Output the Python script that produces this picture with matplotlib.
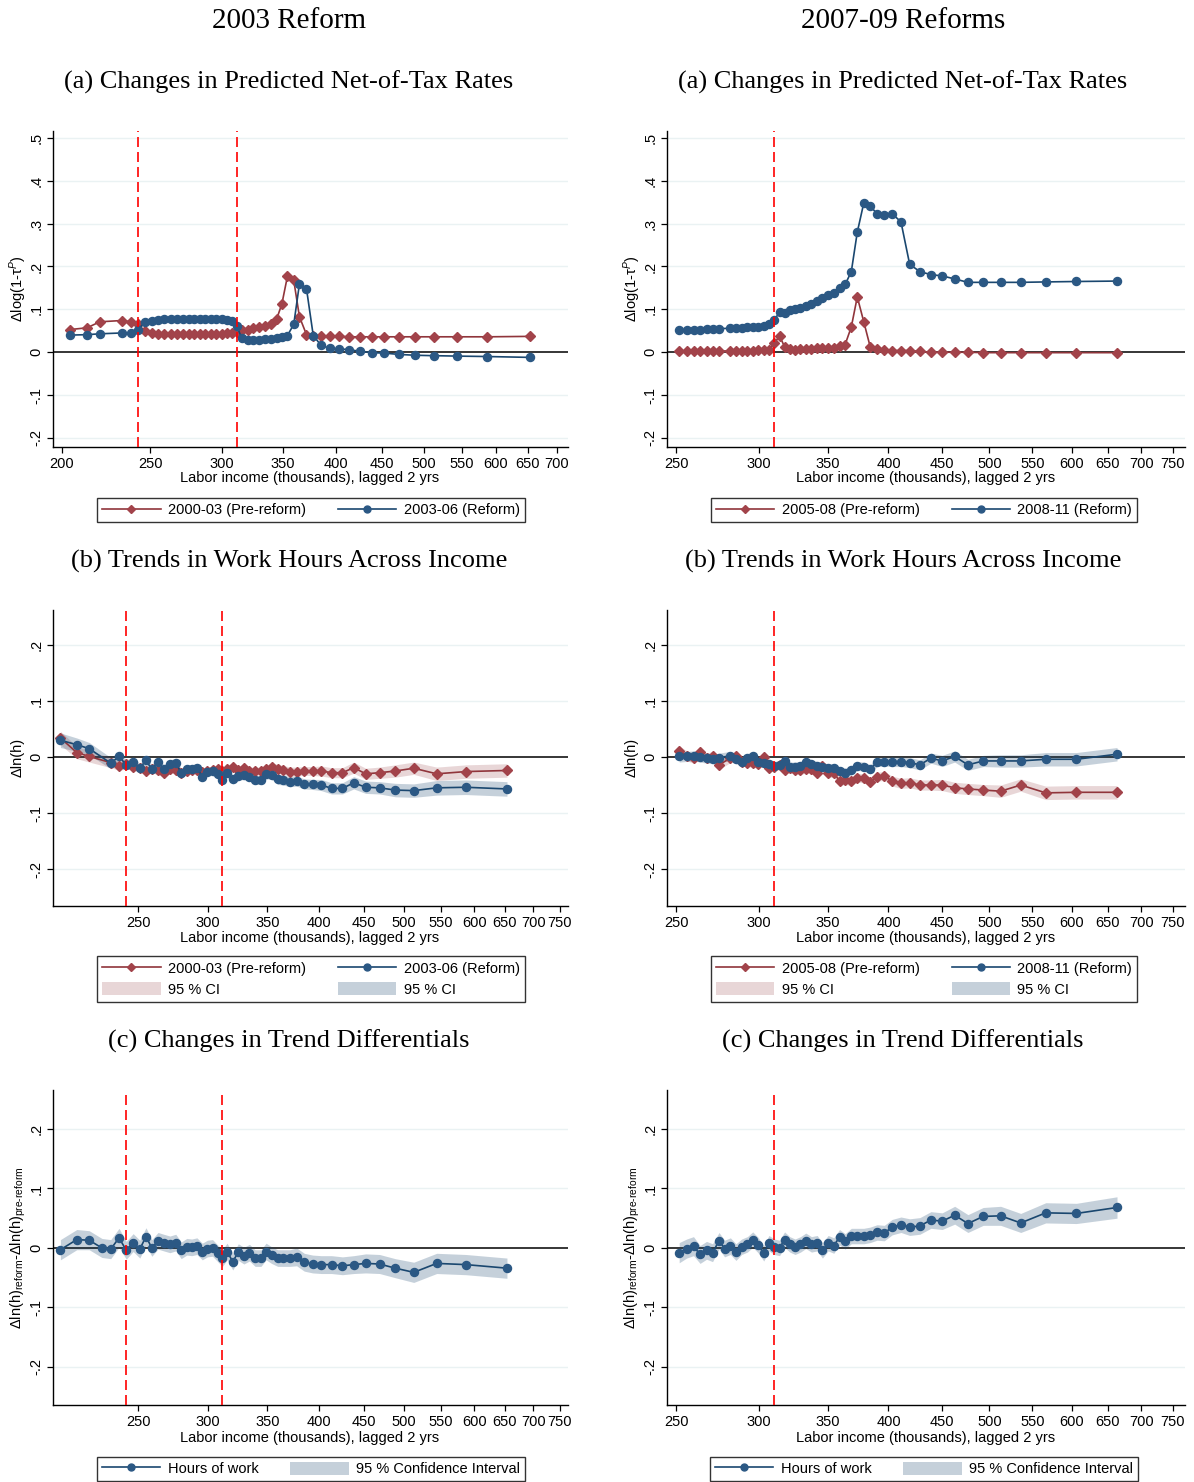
import matplotlib
matplotlib.use("Agg")
import matplotlib.pyplot as plt
from matplotlib.lines import Line2D
from matplotlib.patches import Patch

plt.rcParams['font.family'] = ['Liberation Sans', 'DejaVu Sans']
plt.rcParams['mathtext.fontset'] = 'custom'
plt.rcParams['mathtext.rm'] = 'Liberation Sans'
plt.rcParams['mathtext.it'] = 'Liberation Sans:italic'
plt.rcParams['axes.unicode_minus'] = False

# --- data: income bins (thousands, lagged 2 yrs) ---
x_2003 = [204.2, 213.1, 220.1, 232.8, 237.9, 242.4, 246.8, 251.1, 255.2, 259.1,
          263.3, 267.3, 271.6, 275.8, 279.7, 283.8, 287.5, 291.4, 295.5, 299.5,
          303.5, 307.6, 311.4, 315.2, 319.9, 324.6, 329.3, 334.1, 339.1, 344.3,
          348.9, 353.9, 359.6, 364.8, 371.4, 377.8, 385.4, 393.9, 402.9, 413.8,
          425.7, 438.4, 452.3, 468.9, 488.4, 512.6, 544.1, 587.1, 653.4]
x_2003_diff = [204.2, 213.1, 220.1, 227.5, 232.8, 237.9, 242.4, 246.8, 251.1, 255.2,
               259.1, 263.3, 267.3, 271.6, 275.8, 279.7, 283.8, 287.5, 291.4, 295.5,
               299.5, 303.5, 307.6, 311.4, 315.2, 319.9, 324.6, 329.3, 334.1, 339.1,
               344.3, 348.9, 353.9, 359.6, 364.8, 371.4, 377.8, 385.4, 393.9, 402.9,
               413.8, 425.7, 438.4, 452.3, 468.9, 488.4, 512.6, 544.1, 587.1, 653.4]
x_2007 = [251.7, 255.9, 259.8, 263.6, 267.4, 271.0, 274.9, 281.9, 285.4, 289.0,
          292.7, 296.2, 299.7, 303.5, 307.0, 310.7, 314.3, 317.8, 321.5, 325.3,
          329.2, 333.1, 337.3, 341.6, 345.6, 350.0, 354.4, 358.9, 363.4, 368.4,
          373.3, 378.7, 384.1, 390.0, 396.3, 403.3, 411.2, 419.2, 428.8, 439.4,
          450.5, 463.1, 476.9, 493.3, 512.7, 536.0, 566.5, 606.3, 663.3]
x_2007_diff = [251.7, 255.9, 259.8, 263.6, 267.4, 271.0, 274.9, 278.3, 281.9, 285.4,
               289.0, 292.7, 296.2, 299.7, 303.5, 307.0, 310.7, 314.3, 317.8, 321.5,
               325.3, 329.2, 333.1, 337.3, 341.6, 345.6, 350.0, 354.4, 358.9, 363.4,
               368.4, 373.3, 378.7, 384.1, 390.0, 396.3, 403.3, 411.2, 419.2, 428.8,
               439.4, 450.5, 463.1, 476.9, 493.3, 512.7, 536.0, 566.5, 606.3, 663.3]

# kink points (red dashed lines)
kinks_2003 = [242.5, 311.4]
kinks_2007 = [310.7]

# --- (a) predicted net-of-tax rate changes ---
a03_pre = [0.053, 0.057, 0.071, 0.074, 0.071, 0.065, 0.049, 0.045, 0.043, 0.043,
           0.043, 0.043, 0.043, 0.043, 0.043, 0.043, 0.043, 0.043, 0.043, 0.043,
           0.044, 0.045, 0.048, 0.051, 0.053, 0.056, 0.059, 0.062, 0.066, 0.077,
           0.112, 0.177, 0.168, 0.083, 0.041, 0.038, 0.037, 0.037, 0.037, 0.036,
           0.036, 0.036, 0.036, 0.036, 0.036, 0.036, 0.036, 0.036, 0.037]
a03_ref = [0.040, 0.041, 0.043, 0.045, 0.045, 0.053, 0.070, 0.074, 0.076, 0.077,
           0.077, 0.077, 0.077, 0.077, 0.077, 0.077, 0.077, 0.077, 0.077, 0.077,
           0.075, 0.072, 0.061, 0.033, 0.029, 0.028, 0.029, 0.030, 0.030, 0.034,
           0.036, 0.039, 0.065, 0.159, 0.148, 0.039, 0.016, 0.009, 0.008, 0.006,
           0.002, -0.001, -0.002, -0.005, -0.007, -0.008, -0.009, -0.010, -0.012]
a07_pre = [0.003, 0.003, 0.003, 0.003, 0.003, 0.003, 0.003, 0.003, 0.004, 0.004,
           0.004, 0.004, 0.005, 0.005, 0.006, 0.021, 0.038, 0.013, 0.008, 0.006,
           0.007, 0.008, 0.008, 0.009, 0.009, 0.010, 0.011, 0.014, 0.018, 0.059,
           0.129, 0.071, 0.013, 0.007, 0.005, 0.004, 0.004, 0.004, 0.002, 0.000,
           0.000, 0.000, 0.000, -0.001, -0.001, -0.001, -0.001, -0.001, -0.001]
a07_ref = [0.052, 0.053, 0.053, 0.053, 0.055, 0.055, 0.055, 0.056, 0.056, 0.057,
           0.059, 0.059, 0.060, 0.062, 0.066, 0.075, 0.094, 0.091, 0.098, 0.100,
           0.104, 0.108, 0.113, 0.119, 0.126, 0.134, 0.139, 0.149, 0.158, 0.188,
           0.280, 0.348, 0.341, 0.323, 0.319, 0.323, 0.304, 0.205, 0.188, 0.181,
           0.178, 0.171, 0.163, 0.163, 0.163, 0.163, 0.164, 0.165, 0.166]

# --- (b) trends in work hours, with CI half-widths ---
b03_pre = [0.034, 0.008, 0.001, -0.010, -0.016, -0.013, -0.017, -0.020, -0.025, -0.022,
           -0.024, -0.029, -0.022, -0.023, -0.028, -0.025, -0.023, -0.023, -0.026, -0.025,
           -0.023, -0.022, -0.025, -0.022, -0.017, -0.024, -0.019, -0.025, -0.025, -0.025,
           -0.022, -0.017, -0.021, -0.023, -0.026, -0.026, -0.025, -0.025, -0.025, -0.028,
           -0.028, -0.019, -0.030, -0.028, -0.025, -0.020, -0.030, -0.026, -0.024]
b03_pre_ci = [0.012, 0.011, 0.010, 0.009, 0.008, 0.008, 0.007, 0.007, 0.007, 0.007,
              0.007, 0.007, 0.007, 0.007, 0.007, 0.007, 0.007, 0.007, 0.007, 0.007,
              0.007, 0.007, 0.007, 0.007, 0.007, 0.007, 0.007, 0.007, 0.007, 0.007,
              0.007, 0.007, 0.008, 0.008, 0.008, 0.008, 0.008, 0.008, 0.009, 0.009,
              0.009, 0.010, 0.010, 0.010, 0.011, 0.011, 0.012, 0.012, 0.012]
b03_ref = [0.030, 0.022, 0.015, -0.011, 0.001, -0.014, -0.008, -0.020, -0.006, -0.022,
           -0.008, -0.022, -0.013, -0.010, -0.029, -0.022, -0.022, -0.019, -0.035, -0.026,
           -0.025, -0.030, -0.041, -0.028, -0.040, -0.034, -0.032, -0.035, -0.041, -0.041,
           -0.031, -0.032, -0.040, -0.041, -0.044, -0.043, -0.048, -0.049, -0.050, -0.056,
           -0.056, -0.046, -0.054, -0.055, -0.059, -0.060, -0.055, -0.054, -0.057]
b03_ref_ci = [0.013, 0.012, 0.011, 0.010, 0.009, 0.009, 0.008, 0.008, 0.008, 0.008,
              0.008, 0.008, 0.008, 0.008, 0.008, 0.008, 0.008, 0.008, 0.008, 0.008,
              0.008, 0.008, 0.008, 0.008, 0.008, 0.008, 0.008, 0.008, 0.008, 0.008,
              0.008, 0.008, 0.009, 0.009, 0.009, 0.009, 0.009, 0.009, 0.010, 0.010,
              0.010, 0.011, 0.011, 0.011, 0.012, 0.012, 0.013, 0.013, 0.013]
b07_pre = [0.010, 0.002, -0.002, 0.009, -0.002, 0.002, -0.014, -0.002, 0.002, -0.008,
           -0.010, -0.010, -0.012, 0.000, -0.019, -0.017, -0.014, -0.023, -0.020, -0.023,
           -0.023, -0.021, -0.021, -0.028, -0.016, -0.029, -0.028, -0.043, -0.041, -0.043,
           -0.037, -0.038, -0.044, -0.035, -0.034, -0.043, -0.047, -0.046, -0.050, -0.050,
           -0.050, -0.055, -0.057, -0.059, -0.061, -0.050, -0.064, -0.063, -0.063]
b07_pre_ci = [0.010, 0.009, 0.009, 0.009, 0.009, 0.008, 0.008, 0.008, 0.008, 0.008,
              0.008, 0.008, 0.008, 0.008, 0.008, 0.008, 0.008, 0.008, 0.008, 0.008,
              0.008, 0.008, 0.008, 0.008, 0.008, 0.008, 0.008, 0.008, 0.008, 0.008,
              0.008, 0.008, 0.008, 0.008, 0.008, 0.009, 0.009, 0.009, 0.009, 0.009,
              0.010, 0.010, 0.010, 0.010, 0.011, 0.011, 0.012, 0.012, 0.012]
b07_ref = [0.001, 0.001, 0.002, 0.000, -0.002, -0.004, -0.001, 0.002, -0.004, -0.008,
           -0.002, 0.002, -0.008, -0.010, -0.012, -0.016, -0.014, -0.007, -0.017, -0.017,
           -0.016, -0.008, -0.013, -0.016, -0.018, -0.020, -0.020, -0.025, -0.028, -0.024,
           -0.016, -0.017, -0.022, -0.009, -0.008, -0.008, -0.008, -0.010, -0.014, -0.002,
           -0.007, 0.001, -0.014, -0.007, -0.007, -0.007, -0.004, -0.004, 0.005]
b07_ref_ci = [0.010, 0.009, 0.009, 0.009, 0.009, 0.008, 0.008, 0.008, 0.008, 0.008,
              0.008, 0.008, 0.008, 0.008, 0.008, 0.008, 0.008, 0.008, 0.008, 0.008,
              0.008, 0.008, 0.008, 0.008, 0.008, 0.008, 0.008, 0.008, 0.008, 0.008,
              0.008, 0.008, 0.008, 0.008, 0.008, 0.009, 0.009, 0.009, 0.009, 0.009,
              0.010, 0.010, 0.010, 0.010, 0.011, 0.011, 0.012, 0.012, 0.012]

# --- (c) trend differentials (reform - pre-reform) ---
c03 = [-0.003, 0.014, 0.013, 0.000, -0.002, 0.017, -0.004, 0.009, -0.002, 0.019,
       0.000, 0.012, 0.009, 0.006, 0.009, -0.004, 0.002, 0.001, 0.003, -0.006,
       -0.001, 0.000, -0.009, -0.017, -0.006, -0.023, -0.007, -0.013, -0.008, -0.017,
       -0.017, -0.006, -0.012, -0.017, -0.017, -0.017, -0.015, -0.024, -0.027, -0.028,
       -0.028, -0.030, -0.028, -0.026, -0.027, -0.034, -0.041, -0.026, -0.028, -0.034]
c03_ci = [0.017, 0.017, 0.016, 0.016, 0.016, 0.016, 0.015, 0.015, 0.015, 0.015,
          0.014, 0.014, 0.014, 0.014, 0.014, 0.014, 0.014, 0.014, 0.014, 0.014,
          0.014, 0.014, 0.014, 0.014, 0.014, 0.014, 0.014, 0.014, 0.014, 0.014,
          0.014, 0.014, 0.014, 0.014, 0.014, 0.014, 0.015, 0.015, 0.015, 0.015,
          0.015, 0.015, 0.015, 0.016, 0.016, 0.016, 0.017, 0.017, 0.017, 0.017]
c07 = [-0.008, -0.001, 0.003, -0.011, -0.004, -0.008, 0.012, -0.001, 0.003, -0.007,
       0.002, 0.006, 0.014, 0.005, -0.009, 0.008, 0.002, 0.000, 0.014, 0.006,
       0.002, 0.006, 0.012, 0.006, 0.008, -0.004, 0.008, 0.004, 0.018, 0.011,
       0.020, 0.020, 0.020, 0.022, 0.026, 0.025, 0.035, 0.039, 0.035, 0.037,
       0.047, 0.045, 0.055, 0.041, 0.053, 0.054, 0.042, 0.059, 0.058, 0.068]
c07_ci = [0.017, 0.016, 0.016, 0.015, 0.015, 0.015, 0.014, 0.014, 0.014, 0.014,
          0.013, 0.013, 0.013, 0.013, 0.013, 0.013, 0.013, 0.013, 0.013, 0.013,
          0.013, 0.013, 0.013, 0.013, 0.013, 0.013, 0.013, 0.013, 0.013, 0.013,
          0.013, 0.013, 0.013, 0.013, 0.013, 0.013, 0.013, 0.013, 0.014, 0.014,
          0.014, 0.014, 0.015, 0.015, 0.015, 0.016, 0.016, 0.017, 0.017, 0.018]

# --- styles ---
RED = '#90353B'
RED_M = '#A2434A'
BLUE = '#1A476F'
BLUE_M = '#2B5884'
GRID = '#EAF2F3'
W, H = 1194, 1482
MS_D = 5.2   # diamond size
MS_O = 5.8   # circle size

fig = plt.figure(figsize=(W / 100, H / 100), dpi=100)


def add_ax(left, top, right, bottom):
    return fig.add_axes([left / W, 1 - bottom / H, (right - left) / W, (bottom - top) / H])


def style_ax(ax, xlim, xticks, ylim, yticks, ylabels, kinks):
    ax.set_xscale('log')
    ax.set_xlim(*xlim)
    ax.set_ylim(*ylim)
    ax.set_xticks(xticks)
    ax.set_xticklabels([str(t) for t in xticks])
    ax.xaxis.set_minor_locator(plt.NullLocator())
    ax.set_yticks(yticks)
    ax.set_yticklabels(ylabels, rotation=90, va='center')
    ax.tick_params(axis='both', labelsize=10.5, length=4, width=0.9, pad=3, color='black')
    for s in ['top', 'right']:
        ax.spines[s].set_visible(False)
    for s in ['left', 'bottom']:
        ax.spines[s].set_linewidth(1.0)
    for t in yticks:
        if t != 0:
            ax.axhline(t, color=GRID, lw=1.0, zorder=0)
    ax.axhline(0, color='black', lw=1.1, zorder=1)
    for k in kinks:
        ax.axvline(k, color='red', lw=1.2, ls=(0, (6, 3)), zorder=5)


def line(ax, x, y, color, mcolor, marker, ms):
    ax.plot(x, y, color=color, lw=1.2, marker=marker, ms=ms, mfc=mcolor, mec=mcolor, zorder=4)


def band(ax, x, y, ci, color, alpha):
    lo = [v - c for v, c in zip(y, ci)]
    hi = [v + c for v, c in zip(y, ci)]
    ax.fill_between(x, lo, hi, color=color, alpha=alpha, lw=0, zorder=2)


rows = [(131, 447), (610, 906), (1090, 1405)]
cols = [(53, 568), (667, 1185)]

ticks_a03 = [200, 250, 300, 350, 400, 450, 500, 550, 600, 650, 700]
ticks_all = [250, 300, 350, 400, 450, 500, 550, 600, 650, 700, 750]

ylim_a = (-0.221, 0.516)
yt_a = [-0.2, -0.1, 0, 0.1, 0.2, 0.3, 0.4, 0.5]
yl_a = ['-.2', '-.1', '0', '.1', '.2', '.3', '.4', '.5']
yt_b = [-0.2, -0.1, 0, 0.1, 0.2]
yl_b = ['-.2', '-.1', '0', '.1', '.2']

# row (a)
ax = add_ax(cols[0][0], rows[0][0], cols[0][1], rows[0][1])
style_ax(ax, (195.5, 720), ticks_a03, ylim_a, yt_a, yl_a, kinks_2003)
line(ax, x_2003, a03_pre, RED, RED_M, 'D', MS_D)
line(ax, x_2003, a03_ref, BLUE, BLUE_M, 'o', MS_O)

ax = add_ax(cols[1][0], rows[0][0], cols[1][1], rows[0][1])
style_ax(ax, (245, 771), ticks_all, ylim_a, yt_a, yl_a, kinks_2007)
line(ax, x_2007, a07_pre, RED, RED_M, 'D', MS_D)
line(ax, x_2007, a07_ref, BLUE, BLUE_M, 'o', MS_O)

# row (b)
ax = add_ax(cols[0][0], rows[1][0], cols[0][1], rows[1][1])
style_ax(ax, (200.3, 766), ticks_all, (-0.266, 0.2625), yt_b, yl_b, kinks_2003)
band(ax, x_2003, b03_pre, b03_pre_ci, RED, 0.2)
band(ax, x_2003, b03_ref, b03_ref_ci, BLUE, 0.25)
line(ax, x_2003, b03_pre, RED, RED_M, 'D', MS_D)
line(ax, x_2003, b03_ref, BLUE, BLUE_M, 'o', MS_O)

ax = add_ax(cols[1][0], rows[1][0], cols[1][1], rows[1][1])
style_ax(ax, (245, 771), ticks_all, (-0.266, 0.2625), yt_b, yl_b, kinks_2007)
band(ax, x_2007, b07_pre, b07_pre_ci, RED, 0.2)
band(ax, x_2007, b07_ref, b07_ref_ci, BLUE, 0.25)
line(ax, x_2007, b07_pre, RED, RED_M, 'D', MS_D)
line(ax, x_2007, b07_ref, BLUE, BLUE_M, 'o', MS_O)

# row (c)
ax = add_ax(cols[0][0], rows[2][0], cols[0][1], rows[2][1])
style_ax(ax, (200.3, 766), ticks_all, (-0.264, 0.2655), yt_b, yl_b, kinks_2003)
band(ax, x_2003_diff, c03, c03_ci, BLUE, 0.25)
line(ax, x_2003_diff, c03, BLUE, BLUE_M, 'o', MS_O)

ax = add_ax(cols[1][0], rows[2][0], cols[1][1], rows[2][1])
style_ax(ax, (245, 771), ticks_all, (-0.264, 0.2655), yt_b, yl_b, kinks_2007)
band(ax, x_2007_diff, c07, c07_ci, BLUE, 0.25)
line(ax, x_2007_diff, c07, BLUE, BLUE_M, 'o', MS_O)

# --- titles and labels ---
serif = ['Liberation Serif', 'DejaVu Serif']


def ftext(x, y, s, **kw):
    fig.text(x / W, 1 - y / H, s, ha='center', va='center', **kw)


ftext(289, 21, '2003 Reform', fontsize=21, family=serif)
ftext(903, 21, '2007-09 Reforms', fontsize=21, family=serif)
for cx in [289, 903]:
    ftext(cx, 82, '(a) Changes in Predicted Net-of-Tax Rates', fontsize=19, family=serif)
    ftext(cx, 561, '(b) Trends in Work Hours Across Income', fontsize=19, family=serif)
    ftext(cx, 1041, '(c) Changes in Trend Differentials', fontsize=19, family=serif)

xlab = 'Labor income (thousands), lagged 2 yrs'
for cx in [310, 926]:
    ftext(cx, 478, xlab, fontsize=10.5)
    ftext(cx, 938, xlab, fontsize=10.5)
    ftext(cx, 1438, xlab, fontsize=10.5)

for lx in [18, 632]:
    ftext(lx, 289, 'Δlog(1-τ$^{P}$)', fontsize=10.5, rotation=90)
    ftext(lx, 757, 'Δln(h)', fontsize=10.5, rotation=90)
    ftext(lx, 1248, r'Δln(h)$_{\mathrm{reform}}$-Δln(h)$_{\mathrm{pre‐reform}}$',
          fontsize=10.5, rotation=90)

# --- legends ---
h_pre = Line2D([], [], color=RED, lw=1.2, marker='D', ms=4.5, mfc=RED_M, mec=RED_M)
h_ref = Line2D([], [], color=BLUE, lw=1.2, marker='o', ms=5, mfc=BLUE_M, mec=BLUE_M)
p_red = Patch(facecolor=RED, alpha=0.2, edgecolor='none')
p_blue = Patch(facecolor=BLUE, alpha=0.25, edgecolor='none')

leg_kw = dict(loc='center', fontsize=10.5, frameon=True, fancybox=False, ncol=2,
              handlelength=4.0, handletextpad=0.5, columnspacing=2.2,
              borderpad=0.35, labelspacing=0.45, handleheight=1.0)


def legend(cx, cy, handles, labels):
    lg = fig.legend(handles, labels, bbox_to_anchor=(cx / W, 1 - cy / H), **leg_kw)
    lg.get_frame().set_edgecolor('black')
    lg.get_frame().set_linewidth(1.0)
    lg.get_frame().set_facecolor('white')


for cx, yrs in [(311, ('2000-03', '2003-06')), (924, ('2005-08', '2008-11'))]:
    legend(cx, 510, [h_pre, h_ref],
           [yrs[0] + ' (Pre-reform)', yrs[1] + ' (Reform)'])
    legend(cx, 979, [h_pre, p_red, h_ref, p_blue],
           [yrs[0] + ' (Pre-reform)', '95 % CI', yrs[1] + ' (Reform)', '95 % CI'])
    legend(cx, 1469, [h_ref, p_blue], ['Hours of work', '95 % Confidence Interval'])

fig.savefig('out.png', dpi=100)
